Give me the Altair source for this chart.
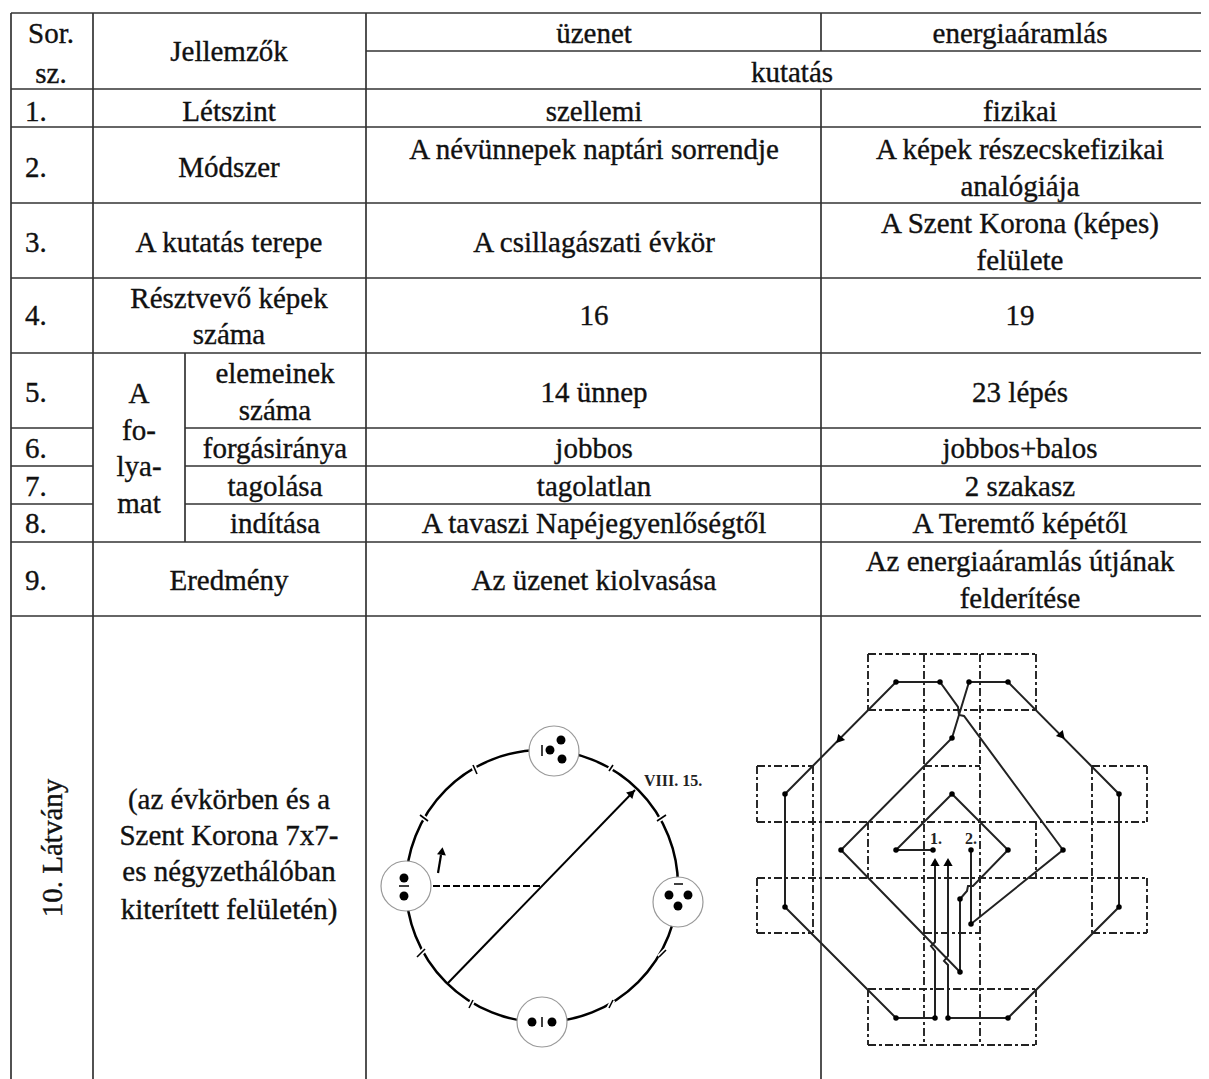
import altair as alt
import pandas as pd

# ---- table text ----
labels = ["Sor.","sz.","Jellemzők","üzenet","energiaáramlás","kutatás",
 "1.","Létszint","szellemi","fizikai",
 "2.","Módszer","A névünnepek naptári sorrendje","A képek részecskefizikai","analógiája",
 "3.","A kutatás terepe","A csillagászati évkör","A Szent Korona (képes)","felülete",
 "4.","Résztvevő képek","száma","16","19",
 "5.","A","fo-","lya-","mat","elemeinek","száma","14 ünnep","23 lépés",
 "6.","forgásiránya","jobbos","jobbos+balos",
 "7.","tagolása","tagolatlan","2 szakasz",
 "8.","indítása","A tavaszi Napéjegyenlőségtől","A Teremtő képétől",
 "9.","Eredmény","Az üzenet kiolvasása","Az energiaáramlás útjának","felderítése",
 "(az évkörben és a","Szent Korona 7x7-","es négyzethálóban","kiterített felületén)"]
label_x = [51,51,229,594,1020,792,
 25,229,594,1020,
 25,229,594,1020,1020,
 25,229,594,1020,1020,
 25,229,229,594,1020,
 25,139,139,139,139,275,275,594,1020,
 25,275,594,1020,
 25,275,594,1020,
 25,275,594,1020,
 25,229,594,1020,1020,
 229,229,229,229]
label_y = [34,74,52,34,34,73,
 112,112,112,112,
 168,168,150,150,187,
 243,243,243,224,261,
 316,299,335,316,316,
 393,394,431,467,504,374,411,393,393,
 449,449,449,449,
 487,487,487,487,
 524,524,524,524,
 581,581,581,562,599,
 800,836,872,910]
left_labels = {"1.","2.","3.","4.","5.","6.","7.","8.","9."}

# ---- table rules ----
rule_x1 = [11,366,11,11,11,11,11,11,185,11,185,11,185,11,11]
rule_x2 = [1201,1201,1201,1201,1201,1201,1201,93,1201,93,1201,93,1201,1201,1201]
rule_y =  [13,51,89,127,203,278,353,428,428,466,466,504,504,542,616]
vert_x  = [11,93,185,366,821,821]
vert_y1 = [13,13,353,13,13,89]
vert_y2 = [1079,1079,542,1079,51,1079]

# ---- dashed grid of the crown ----
gh_x1 = [868,868,757,924,1092,757,757,757,924,1092,868,868]
gh_x2 = [1036,1036,813,980,1147,1147,1147,813,980,1147,1036,1036]
gh_y =  [654,710,766,766,766,822,878,933,933,933,989,1045]
gv_x =  [868,868,868,1036,1036,1036,924,980,813,1092,757,757,1147,1147]
gv_y1 = [654,822,989,654,822,989,654,654,766,766,766,878,766,878]
gv_y2 = [710,878,1045,710,878,1045,1045,1045,933,933,822,933,822,933]

# ---- energy paths ----
path1_x = [933,896,952,1008,973,968,967,960,960,841,952,969,1008,1119,1119,1008,948,948,944,948,948]
path1_y = [850,850,794,850,886,886,891,899,972,850,738,682,682,794,907,1018,1018,965,961,956,866]
path2_x = [971,971,1063,964,959,958,940,896,785,785,896,935,935,931,935,935]
path2_y = [850,924,850,716,715,707,682,682,794,907,1018,1018,951,946,942,866]
node_x = [896,940,969,1008,785,1119,952,841,952,896,933,971,1008,1063,785,960,971,960,896,935,948,1008,1119]
node_y = [682,682,682,682,794,794,738,850,794,850,850,850,850,850,907,899,924,972,1018,1018,1018,1018,907]
arrow_x = [935,948,839,1062]
arrow_y = [862,862,740,736]
arrow_angle = [0,0,222,138]

# ---- year wheel ----
wheel_x = [542]; wheel_y = [886]
disc_x = [554,406,678,542]
disc_y = [751,886,902,1022]
dot_x = [561,550,562,404,404,669,688,678,532,552]
dot_y = [740,750,759,878,896,895,895,906,1022,1022]
bar_x1 = [542,399,674,542]; bar_x2 = [542,409,683,542]
bar_y1 = [745,886,884,1017]; bar_y2 = [756,886,884,1027]
tick_x1 = [473,420,417,469,609,659,657,609]
tick_x2 = [477,428,425,473,613,666,666,613]
tick_y1 = [765,815,957,1008,1008,957,821,771]
tick_y2 = [774,821,949,1000,1000,950,815,765]
diag_x = [448,635]; diag_y = [983,790]
dash_x = [433,543]; dash_y = [886,886]
small_x = [438,441]; small_y = [873,855]
head_x = [632,442]; head_y = [793,851]; head_angle = [46,8]
note_text = ["VIII. 15.","1.","2."]
note_x = [673,936,971]; note_y = [781,839,839]

INK = "#111111"
FONT = "Liberation Serif"
X = alt.Scale(domain=[8,1201], range=[0,1193], nice=False, zero=False)
Y = alt.Scale(domain=[8,1079], range=[0,1071], nice=False, zero=False)
xe = lambda f: alt.X(f, type="quantitative", scale=X, axis=None)
ye = lambda f: alt.Y(f, type="quantitative", scale=Y, axis=None)

df = pd.DataFrame({"t":labels,"x":label_x,"y":label_y})
left = df[df.t.isin(left_labels)]
mid = df[~df.t.isin(left_labels)]

def rules(x1,x2,y1,y2,**kw):
    d = pd.DataFrame({"x":x1,"x2":x2,"y":y1,"y2":y2})
    return alt.Chart(d).mark_rule(clip=False,**kw).encode(x=xe("x"),x2="x2",y=ye("y"),y2="y2")
def line(xs,ys,**kw):
    d = pd.DataFrame({"x":xs,"y":ys,"o":range(len(xs))})
    return alt.Chart(d).mark_line(**kw).encode(x=xe("x"),y=ye("y"),order="o")
def pts(xs,ys,size,**kw):
    d = pd.DataFrame({"x":xs,"y":ys})
    return alt.Chart(d).mark_point(**kw).encode(x=xe("x"),y=ye("y"),size=alt.value(size))

TS = 29
TEXT = dict(font=FONT,fontSize=TS,color=INK,stroke=INK,strokeWidth=0.35,baseline="middle")
layers = [
  rules(rule_x1,rule_x2,rule_y,rule_y,color="#333333",strokeWidth=1.7),
  rules(vert_x,vert_x,vert_y1,vert_y2,color="#333333",strokeWidth=1.7),
  alt.Chart(mid).mark_text(align="center",**TEXT).encode(x=xe("x"),y=ye("y"),text="t"),
  alt.Chart(left).mark_text(align="left",**TEXT).encode(x=xe("x"),y=ye("y"),text="t"),
  alt.Chart(pd.DataFrame({"t":["10. Látvány"],"x":[53],"y":[848]})).mark_text(align="center",angle=270,**TEXT).encode(x=xe("x"),y=ye("y"),text="t"),
  # wheel
  pts(wheel_x,wheel_y,272**2,shape="circle",filled=False,color="black",strokeWidth=2.5,opacity=1),
  rules(tick_x1,tick_x2,tick_y1,tick_y2,color="white",strokeWidth=5),
  rules(tick_x1,tick_x2,tick_y1,tick_y2,color="black",strokeWidth=1.6),
  pts(disc_x,disc_y,50**2,shape="circle",filled=True,fill="white",stroke="#999999",strokeWidth=1.2,opacity=1),
  pts(dot_x,dot_y,80,shape="circle",filled=True,color="black",opacity=1),
  rules(bar_x1,bar_x2,bar_y1,bar_y2,color="black",strokeWidth=1.5),
  line(diag_x,diag_y,color="black",strokeWidth=2),
  line(dash_x,dash_y,color="black",strokeWidth=1.8,strokeDash=[7,3]),
  line(small_x,small_y,color="black",strokeWidth=2.2),
  alt.Chart(pd.DataFrame({"x":head_x,"y":head_y,"a":head_angle})).mark_point(shape="triangle-up",filled=True,color="black",opacity=1).encode(
      x=xe("x"),y=ye("y"),size=alt.value(80),angle=alt.Angle("a:Q",scale=None)),
  # grid
  rules(gh_x1,gh_x2,gh_y,gh_y,color="#222222",strokeWidth=1.9,strokeDash=[8,3,3,3]),
  rules(gv_x,gv_x,gv_y1,gv_y2,color="#222222",strokeWidth=1.9,strokeDash=[8,3,3,3]),
  # paths
  line(path1_x,path1_y,color="#222222",strokeWidth=2),
  line(path2_x,path2_y,color="#222222",strokeWidth=2),
  pts(node_x,node_y,30,shape="circle",filled=True,color="black",opacity=1),
  alt.Chart(pd.DataFrame({"x":arrow_x,"y":arrow_y,"a":arrow_angle})).mark_point(shape="triangle-up",filled=True,color="black",opacity=1).encode(
      x=xe("x"),y=ye("y"),size=alt.value(85),angle=alt.Angle("a:Q",scale=None)),
  alt.Chart(pd.DataFrame({"t":note_text[:1],"x":note_x[:1],"y":note_y[:1]})).mark_text(font=FONT,fontSize=16,fontWeight="bold",color="#222222",baseline="middle",align="center").encode(x=xe("x"),y=ye("y"),text="t"),
  alt.Chart(pd.DataFrame({"t":note_text[1:],"x":note_x[1:],"y":note_y[1:]})).mark_text(font=FONT,fontSize=16,fontWeight="bold",color="#222222",baseline="middle",align="center").encode(x=xe("x"),y=ye("y"),text="t"),
]
chart = alt.layer(*layers).properties(width=1193,height=1071,padding=0,autosize=alt.AutoSizeParams(type="none"),background="white").configure_view(stroke=None)
chart.save("out.html", embed_options={"renderer":"svg","actions":False})
